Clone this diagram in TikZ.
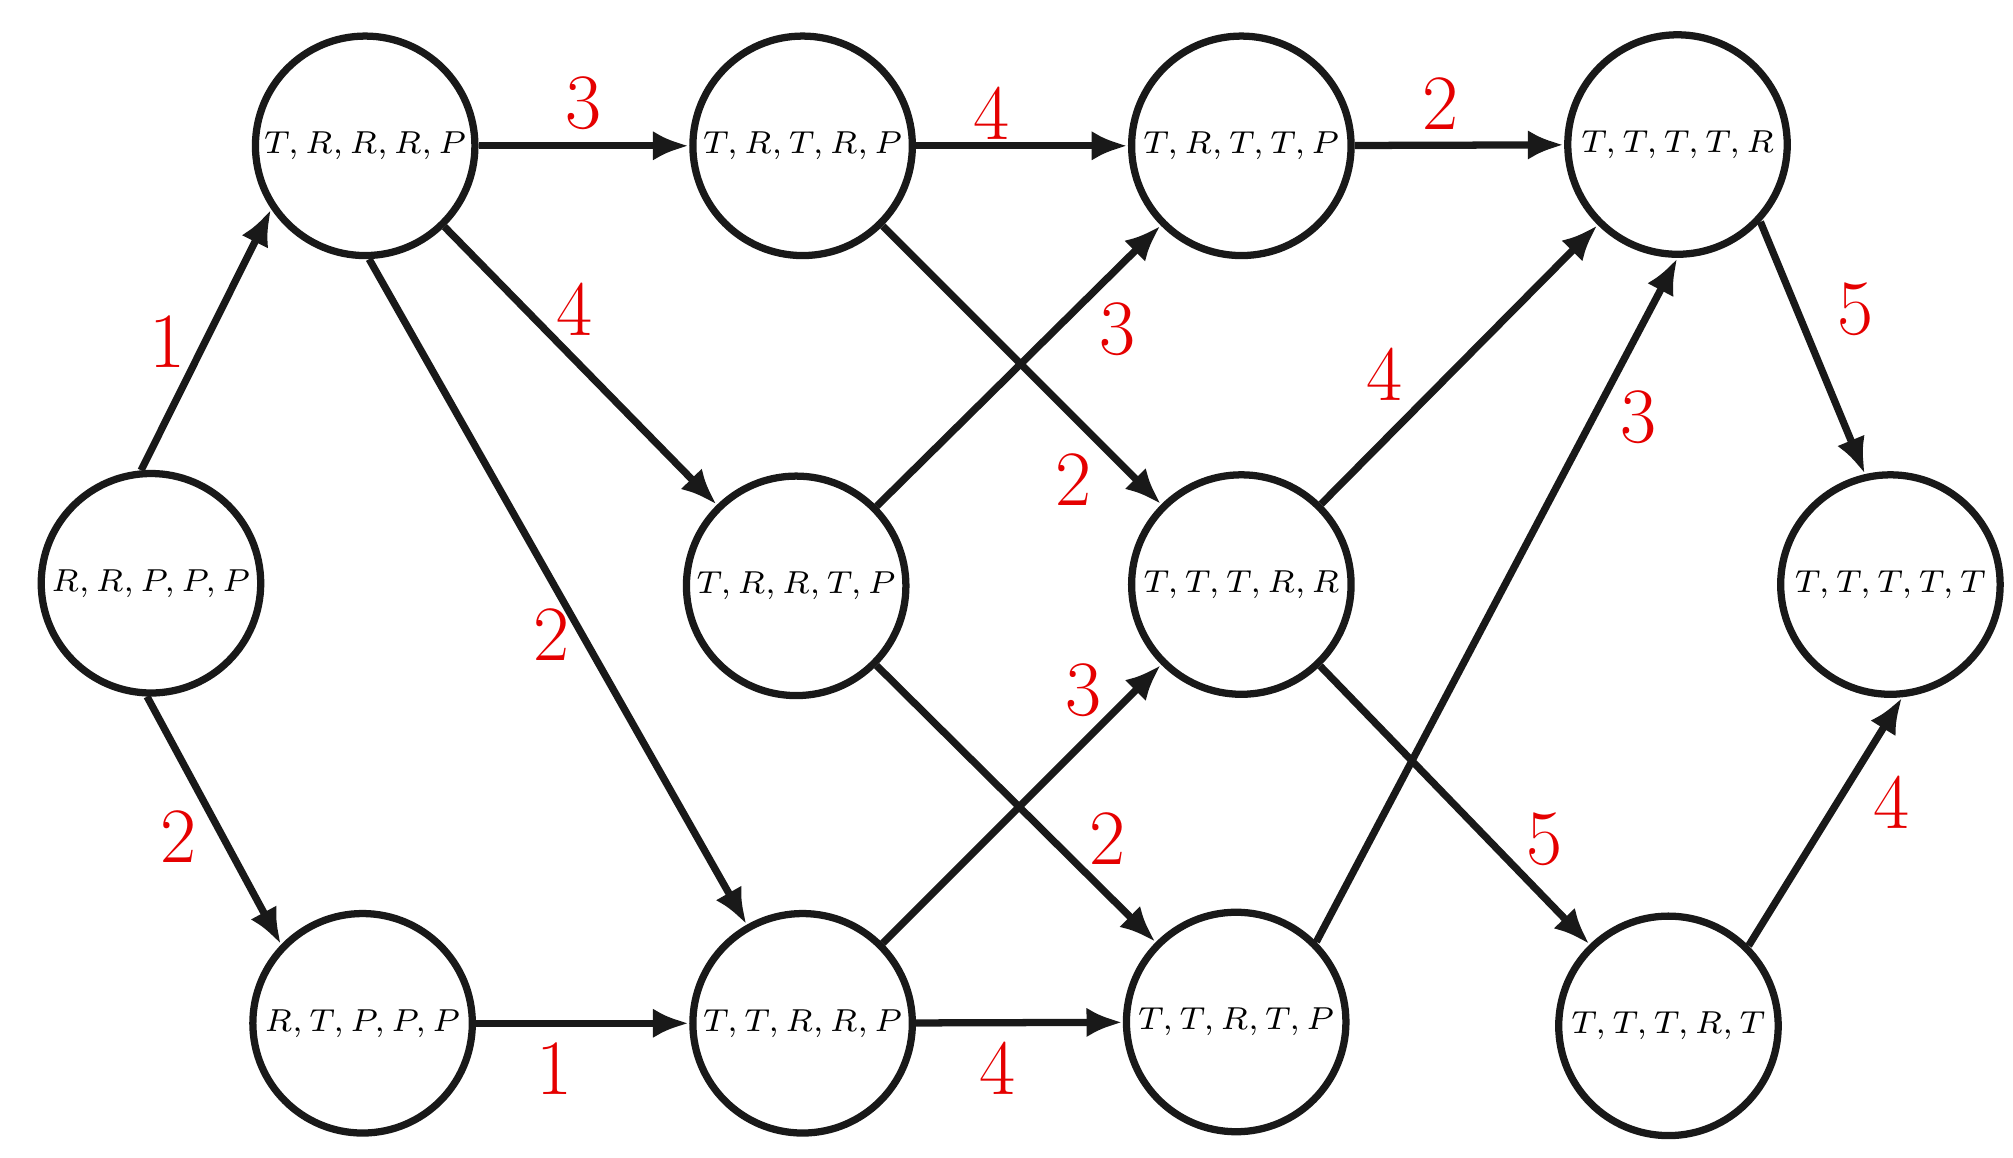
\documentclass[tikz,border=0pt]{standalone}
\usetikzlibrary{arrows.meta}
\begin{document}
\begin{tikzpicture}[x=0.01cm,y=-0.01cm,
 st/.style={circle,draw=black!90,line width=1.6pt,minimum size=1.70cm,inner sep=0pt,font=\scriptsize},
 ar/.style={draw=black!90,line width=1.6pt,-{Latex[length=8pt,width=6.5pt]}},
 lb/.style={text=red!90!black,font=\LARGE}]
\useasboundingbox (0,0) rectangle (1560,897);
\node[st] (A) at (117,452) {$R,R,P,P,P$};
\node[st] (B) at (283,113) {$T,R,R,R,P$};
\node[st] (C) at (281,793) {$R,T,P,P,P$};
\node[st] (D) at (622,113) {$T,R,T,R,P$};
\node[st] (E) at (617,454) {$T,R,R,T,P$};
\node[st] (F) at (622,793) {$T,T,R,R,P$};
\node[st] (G) at (962,113) {$T,R,T,T,P$};
\node[st] (H) at (962,453) {$T,T,T,R,R$};
\node[st] (I) at (958,792) {$T,T,R,T,P$};
\node[st] (J) at (1300,112) {$T,T,T,T,R$};
\node[st] (K) at (1293,795) {$T,T,T,R,T$};
\node[st] (L) at (1465,453) {$T,T,T,T,T$};
\draw[ar] (A.95) -- (B.214); \node[lb] at (130,265) {1};
\draw[ar] (A.-92) -- (C.136); \node[lb] at (138,648) {2};
\draw[ar] (B) -- (D); \node[lb] at (452,80) {3};
\draw[ar] (B) -- (E); \node[lb] at (445,240) {4};
\draw[ar] (B.-88) -- (F); \node[lb] at (427,492) {2};
\draw[ar] (C) -- (F); \node[lb] at (430,828) {1};
\draw[ar] (D) -- (G); \node[lb] at (768,88) {4};
\draw[ar] (D) -- (H); \node[lb] at (832,372) {2};
\draw[ar] (E) -- (G); \node[lb] at (866,255) {3};
\draw[ar] (E) -- (I); \node[lb] at (858,650) {2};
\draw[ar] (F) -- (H); \node[lb] at (840,535) {3};
\draw[ar] (F) -- (I); \node[lb] at (773,828) {4};
\draw[ar] (G) -- (J); \node[lb] at (1116,80) {2};
\draw[ar] (H) -- (J); \node[lb] at (1073,290) {4};
\draw[ar] (H) -- (K); \node[lb] at (1197,650) {5};
\draw[ar] (I.45) -- (J.-90); \node[lb] at (1270,323) {3};
\draw[ar] (J.-43) -- (L.103); \node[lb] at (1438,240) {5};
\draw[ar] (K.45) -- (L.-84); \node[lb] at (1466,622) {4};
\end{tikzpicture}
\end{document}
